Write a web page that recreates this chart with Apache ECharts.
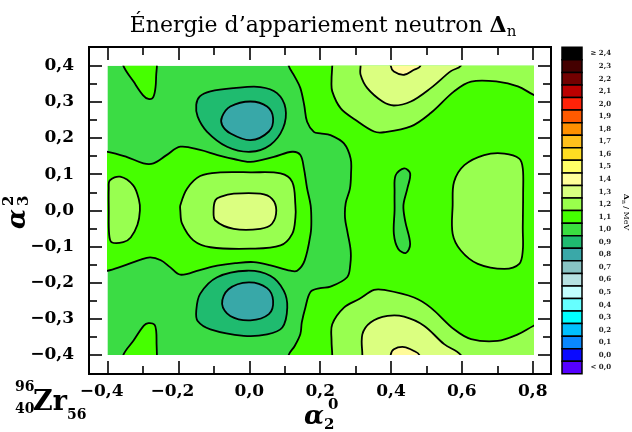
<!DOCTYPE html>
<html><head><meta charset="utf-8">
<script src="https://cdn.jsdelivr.net/npm/echarts@6/dist/echarts.min.js"></script>
<style>html,body{margin:0;padding:0;background:#fff}#c{width:632px;height:432px}</style>
</head><body><div id="c"></div>
<script>
// ---------- tick positions / labels ----------
const xTicksMajor = [-0.4, -0.2, 0, 0.2, 0.4, 0.6, 0.8];
const xTicksMinor = [-0.3, -0.1, 0.1, 0.3, 0.5, 0.7];
const yTicksMajor = [-0.4, -0.3, -0.2, -0.1, 0, 0.1, 0.2, 0.3, 0.4];
const yTicksMinor = [-0.35, -0.25, -0.15, -0.05, 0.05, 0.15, 0.25, 0.35];
// colour scale (top to bottom)
const levelLabels = ['\u2265 2,4','2,3','2,2','2,1','2,0','1,9','1,8','1,7','1,6','1,5','1,4','1,3','1,2','1,1','1,0','0,9','0,8','0,7','0,6','0,5','0,4','0,3','0,2','0,1','0,0','< 0,0'];
const levelColors = ['#000000','#440000','#720000','#bb0000','#ff2208','#ff5a00','#ff9000','#ffc01c','#ffdd22','#ffff66','#ffff99','#d8ff80','#99ff4c','#44ff00','#3ade40','#1fbb70','#3aa8a8','#88c4c4','#b6e2e2','#c2ffff','#66ffff','#00ffff','#00c0ff','#0a88ff','#0a0aff','#5500ff'];

// ---------- contour regions (alpha2, alpha3) ----------
const region10_bg = [[-0.4,-0.4],[0.8,-0.4],[0.8,0.4],[-0.4,0.4]];
const region11_band = [[-0.45,0.165],[-0.4,0.162],[-0.347,0.148],[-0.299,0.13],[-0.271,0.13],[-0.235,0.152],[-0.195,0.176],[-0.139,0.167],[-0.09,0.153],[-0.044,0.142],[0.003,0.134],[0.069,0.148],[0.121,0.162],[0.144,0.153],[0.154,0.116],[0.163,0.061],[0.173,0.014],[0.175,-0.03],[0.173,-0.064],[0.156,-0.139],[0.135,-0.167],[0.116,-0.167],[0.06,-0.152],[0.012,-0.143],[-0.04,-0.146],[-0.091,-0.153],[-0.14,-0.165],[-0.195,-0.178],[-0.224,-0.157],[-0.25,-0.138],[-0.28,-0.13],[-0.309,-0.137],[-0.36,-0.155],[-0.4,-0.167],[-0.45,-0.17]];
const region11_right = [[0.105,0.45],[0.111,0.4],[0.128,0.37],[0.144,0.338],[0.155,0.29],[0.163,0.245],[0.182,0.217],[0.2,0.213],[0.229,0.208],[0.267,0.185],[0.286,0.143],[0.287,0.1],[0.284,0.06],[0.272,0.02],[0.27,-0.02],[0.277,-0.06],[0.286,-0.111],[0.285,-0.15],[0.276,-0.185],[0.229,-0.211],[0.2,-0.215],[0.173,-0.225],[0.158,-0.269],[0.148,-0.31],[0.144,-0.342],[0.128,-0.375],[0.111,-0.4],[0.105,-0.45],[0.9,-0.45],[0.9,0.45]];
const region11_tl = [[-0.365,0.45],[-0.356,0.4],[-0.327,0.356],[-0.3,0.318],[-0.285,0.308],[-0.272,0.312],[-0.265,0.34],[-0.263,0.375],[-0.261,0.4],[-0.26,0.45]];
const region11_bl = [[-0.365,-0.45],[-0.356,-0.4],[-0.327,-0.36],[-0.298,-0.319],[-0.285,-0.312],[-0.268,-0.316],[-0.263,-0.335],[-0.262,-0.37],[-0.261,-0.4],[-0.26,-0.45]];
const region09_up = [[-0.15,0.292],[-0.14,0.315],[-0.11,0.329],[-0.044,0.338],[0.031,0.341],[0.078,0.324],[0.102,0.282],[0.095,0.227],[0.059,0.181],[0.003,0.162],[-0.063,0.176],[-0.12,0.218],[-0.146,0.259]];
const region08_up = [[-0.077,0.259],[-0.054,0.287],[0.003,0.301],[0.05,0.287],[0.067,0.255],[0.055,0.218],[0.003,0.194],[-0.054,0.213],[-0.077,0.236]];
const region09_dn = [[-0.15,-0.278],[-0.139,-0.231],[-0.091,-0.185],[-0.007,-0.167],[0.059,-0.181],[0.097,-0.222],[0.107,-0.269],[0.093,-0.324],[0.05,-0.343],[-0.016,-0.347],[-0.11,-0.329],[-0.146,-0.306]];
const region08_dn = [[-0.077,-0.259],[-0.059,-0.218],[-0.002,-0.199],[0.05,-0.215],[0.067,-0.25],[0.055,-0.287],[0.003,-0.304],[-0.054,-0.292]];
const region12_left = [[-0.394,0.083],[-0.365,0.093],[-0.328,0.069],[-0.312,0.03],[-0.309,0.0],[-0.316,-0.04],[-0.335,-0.075],[-0.356,-0.088],[-0.389,-0.088],[-0.396,-0.065],[-0.397,0.0],[-0.397,0.06]];
const region12_ctr = [[-0.195,0.014],[-0.176,0.06],[-0.139,0.095],[-0.082,0.105],[0.003,0.105],[0.088,0.102],[0.121,0.079],[0.13,0.014],[0.13,-0.02],[0.121,-0.065],[0.088,-0.097],[0.003,-0.106],[-0.11,-0.102],[-0.158,-0.083],[-0.19,-0.037],[-0.195,0.0]];
const region13_ctr = [[-0.096,0.028],[-0.082,0.037],[-0.044,0.046],[0.031,0.046],[0.064,0.032],[0.076,0.0],[0.064,-0.037],[0.031,-0.051],[-0.044,-0.051],[-0.096,-0.028],[-0.101,0.0]];
const region12_tr = [[0.234,0.45],[0.234,0.4],[0.232,0.36],[0.234,0.329],[0.258,0.282],[0.3,0.25],[0.352,0.218],[0.38,0.216],[0.456,0.232],[0.512,0.269],[0.578,0.329],[0.626,0.356],[0.701,0.356],[0.758,0.343],[0.803,0.319],[0.85,0.3],[0.9,0.3],[0.9,0.45]];
const region13_tr = [[0.314,0.45],[0.314,0.4],[0.314,0.375],[0.333,0.338],[0.376,0.301],[0.408,0.29],[0.456,0.301],[0.512,0.338],[0.569,0.385],[0.597,0.4],[0.61,0.45]];
const region14_tr = [[0.397,0.45],[0.399,0.4],[0.408,0.384],[0.437,0.375],[0.465,0.389],[0.482,0.398],[0.49,0.45]];
const region12_br = [[0.234,-0.45],[0.234,-0.4],[0.232,-0.36],[0.234,-0.315],[0.267,-0.269],[0.31,-0.245],[0.352,-0.22],[0.38,-0.22],[0.465,-0.241],[0.512,-0.269],[0.578,-0.329],[0.626,-0.356],[0.701,-0.361],[0.758,-0.343],[0.803,-0.319],[0.85,-0.3],[0.9,-0.3],[0.9,-0.45]];
const region13_br = [[0.319,-0.45],[0.319,-0.4],[0.319,-0.343],[0.342,-0.31],[0.39,-0.292],[0.437,-0.294],[0.493,-0.319],[0.55,-0.37],[0.597,-0.4],[0.61,-0.45]];
const region14_br = [[0.397,-0.45],[0.399,-0.4],[0.408,-0.384],[0.437,-0.378],[0.465,-0.389],[0.48,-0.4],[0.49,-0.45]];
const region12_mr = [[0.574,0.014],[0.578,0.079],[0.607,0.125],[0.663,0.153],[0.72,0.157],[0.762,0.143],[0.772,0.116],[0.773,0.05],[0.772,-0.05],[0.772,-0.111],[0.762,-0.148],[0.72,-0.162],[0.645,-0.148],[0.597,-0.111],[0.574,-0.065]];
const region10_blob = [[0.413,0.097],[0.437,0.116],[0.454,0.102],[0.446,0.06],[0.435,0.014],[0.44,-0.03],[0.454,-0.093],[0.442,-0.118],[0.42,-0.106],[0.408,-0.065],[0.41,0.0],[0.41,0.05]];

// ---------- styling ----------
const C = {c08:'#38a8a8', c09:'#1fbb6f', c10:'#3bdc44', c11:'#46ff00', c12:'#98ff50', c13:'#dbff80', c14:'#fffb9a'};
const layers = [
  {pts: region10_bg, color: C.c10, line: false, smooth: 0},
  {pts: region11_band, color: C.c11},
  {pts: region11_right, color: C.c11},
  {pts: region11_tl, color: C.c11},
  {pts: region11_bl, color: C.c11},
  {pts: region09_up, color: C.c09},
  {pts: region08_up, color: C.c08},
  {pts: region09_dn, color: C.c09},
  {pts: region08_dn, color: C.c08},
  {pts: region12_left, color: C.c12},
  {pts: region12_ctr, color: C.c12},
  {pts: region13_ctr, color: C.c13},
  {pts: region12_tr, color: C.c12},
  {pts: region13_tr, color: C.c13},
  {pts: region14_tr, color: C.c14},
  {pts: region12_br, color: C.c12},
  {pts: region13_br, color: C.c13},
  {pts: region14_br, color: C.c14},
  {pts: region12_mr, color: C.c12},
  {pts: region10_blob, color: C.c10}
];

const SERIF = 'DejaVu Serif';
function fmt(v){ const s = Math.abs(v).toFixed(1).replace('.', ','); return (v < -1e-9 ? '\u2212' : '') + s; }

// frame geometry (pixels) and data rect
const DL = 107.7, DT = 65.7, DW = 425, DH = 289.3;
const FL = 89, FT = 47, FR = 551, FB = 374;
const sx = DW / 1.2, sy = DH / 0.8;
const fxMin = -0.4 - (DL - FL) / sx, fxMax = 0.8 + (FR - (DL + DW)) / sx;
const fyMax = 0.4 + (DT - FT) / sy, fyMin = -0.4 - (FB - (DT + DH)) / sy;

const lineStyle = {color:'#000', width: 2};
function xAx(pos, ticks, len, labels){
  return {type:'value', gridIndex:1, position:pos, min:fxMin, max:fxMax,
    axisLine:{show:true, onZero:false, lineStyle},
    axisTick:{show:true, inside:true, length:len, customValues:ticks, lineStyle:{color:'#000', width:1.6}},
    axisLabel: labels ? {show:true, customValues:ticks, margin:9, fontFamily:SERIF, fontWeight:'bold', fontSize:17, color:'#000',
      formatter: v => v < -1e-9 ? '{m|' + fmt(v) + '}' : fmt(v),
      rich:{m:{fontFamily:SERIF, fontWeight:'bold', fontSize:17, color:'#000', padding:[0,12,0,0]}}} : {show:false},
    splitLine:{show:false}, z:10};
}
function yAx(pos, ticks, len, labels){
  return {type:'value', gridIndex:1, position:pos, min:fyMin, max:fyMax,
    axisLine:{show:true, onZero:false, lineStyle},
    axisTick:{show:true, inside:true, length:len, customValues:ticks, lineStyle:{color:'#000', width:1.6}},
    axisLabel: labels ? {show:true, customValues:ticks, margin:15, fontFamily:SERIF, fontWeight:'bold', fontSize:17, color:'#000', formatter: fmt} : {show:false},
    splitLine:{show:false}, z:10};
}

// colour bar graphics
const cbX = 562, cbW = 20, cbTop = 47.3, cbStep = 12.56;
const graphics = [];
levelColors.forEach((col, i) => {
  graphics.push({type:'rect', shape:{x:cbX, y:cbTop + i*cbStep, width:cbW, height:cbStep}, style:{fill:col, stroke:'#000', lineWidth:1.5}, z:5});
  graphics.push({type:'text', x:611, y:cbTop + (i+0.5)*cbStep, style:{text:levelLabels[i], fontFamily:SERIF, fontWeight:'bold', fontSize:7, fill:'#222', align:'right', textAlign:'right', verticalAlign:'middle', textVerticalAlign:'middle'}, z:5});
});
function T(x, y, text, size, opts){
  return Object.assign({type:'text', x, y, z:5, style:Object.assign({text, fontFamily:SERIF, fontSize:size, fill:'#000', align:'left', textAlign:'left', verticalAlign:'middle', textVerticalAlign:'middle'}, opts||{})});
}
// title
graphics.push({type:'text', x:323, y:26, z:5, style:{text:"\u00c9nergie d\u2019appariement neutron {d|\u0394}{n|n}", fontFamily:SERIF, fontSize:22, lineHeight:27, fill:'#000', align:'center', textAlign:'center', verticalAlign:'middle', textVerticalAlign:'middle',
  rich:{d:{fontFamily:SERIF, fontSize:22, fontWeight:'bold', lineHeight:27}, n:{fontFamily:SERIF, fontSize:15, lineHeight:15, padding:[12,0,0,0]}}}});
// x axis title
graphics.push(T(304, 417, '\u03b1', 26, {fontWeight:'bold', fontStyle:'italic'}));
graphics.push(T(324, 425, '2', 15, {fontWeight:'bold'}));
graphics.push(T(328, 405, '0', 15, {fontWeight:'bold'}));
// y axis title (rotated)
graphics.push({type:'group', x:18, y:206, rotation:Math.PI/2, z:5, children:[
  T(-23, 0, '\u03b1', 26, {fontWeight:'bold', fontStyle:'italic'}),
  T(0, 6, '3', 15, {fontWeight:'bold'}),
  T(0, -9, '2', 15, {fontWeight:'bold'})
]});
// nucleus label
graphics.push(T(33, 403, 'Zr', 27, {fontWeight:'bold'}));
graphics.push(T(15, 387, '96', 14, {fontWeight:'bold'}));
graphics.push(T(15, 409, '40', 14, {fontWeight:'bold'}));
graphics.push(T(67, 415, '56', 14, {fontWeight:'bold'}));
// colour bar title (rotated)
graphics.push({type:'group', x:626, y:212, rotation:-Math.PI/2, z:5, children:[
  {type:'text', x:0, y:0, style:{text:'{d|\u0394}{n|n} / MeV', fontFamily:SERIF, fontSize:8, lineHeight:10, fill:'#000', align:'center', textAlign:'center', verticalAlign:'middle', textVerticalAlign:'middle',
   rich:{d:{fontFamily:SERIF, fontSize:8, fontWeight:'bold', lineHeight:10}, n:{fontFamily:SERIF, fontSize:6, lineHeight:6, padding:[4,0,0,0]}}}}
]});

const chart = echarts.init(document.getElementById('c'), null, {renderer:'canvas'});
chart.setOption({
  animation:false,
  backgroundColor:'#fff',
  grid:[
    {left:DL, top:DT, width:DW, height:DH, containLabel:false},
    {left:FL, top:FT, width:FR-FL, height:FB-FT, containLabel:false}
  ],
  xAxis:[
    {type:'value', gridIndex:0, min:-0.4, max:0.8, show:false},
    xAx('bottom', xTicksMajor, 13, true),
    xAx('bottom', xTicksMinor, 8, false),
    xAx('top', xTicksMajor, 13, false),
    xAx('top', xTicksMinor, 8, false)
  ],
  yAxis:[
    {type:'value', gridIndex:0, min:-0.4, max:0.4, show:false},
    yAx('left', yTicksMajor, 13, true),
    yAx('left', yTicksMinor, 8, false),
    yAx('right', yTicksMajor, 13, false),
    yAx('right', yTicksMinor, 8, false)
  ],
  series:[{
    type:'custom', xAxisIndex:0, yAxisIndex:0, clip:true, silent:true,
    data: layers.map((l, i) => [i]),
    renderItem: function(params, api){
      const L = layers[params.dataIndex];
      const pts = L.pts.map(p => api.coord(p));
      return {type:'polygon', shape:{points:pts, smooth: L.smooth === undefined ? 0.35 : L.smooth},
        style:{fill:L.color, stroke: L.line === false ? null : '#000', lineWidth:1.8}};
    }
  }],
  graphic: graphics
});
</script></body></html>
